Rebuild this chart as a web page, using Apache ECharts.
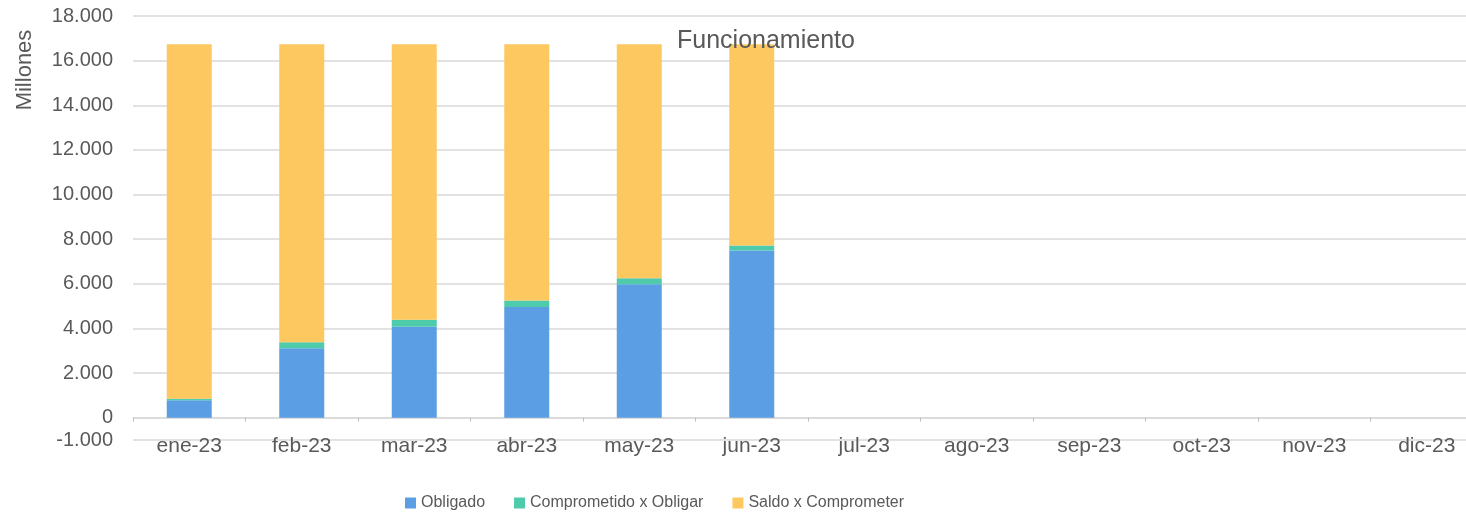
<!DOCTYPE html>
<html>
<head>
<meta charset="utf-8">
<script src="https://cdn.jsdelivr.net/npm/echarts@6/dist/echarts.min.js"></script>
<style>
  html, body { margin: 0; padding: 0; background: #fff; overflow: hidden; }
  /* the plot area runs slightly past the right edge of the picture */
  #chart { width: 1483px; height: 517px; }
</style>
</head>
<body>
<div id="chart"></div>
<script>
var months = ['ene-23','feb-23','mar-23','abr-23','may-23','jun-23','jul-23','ago-23','sep-23','oct-23','nov-23','dic-23'];
var obligado = [780, 3110, 4070, 4960, 5980, 7490, null, null, null, null, null, null];
var comprometido = [70, 270, 320, 290, 270, 230, null, null, null, null, null, null];
var saldo = [15880, 13350, 12340, 11480, 10480, 9010, null, null, null, null, null, null];

var yMin = -1000, yMax = 18000, yStep = 1000;
var txt = '#595959';
var font = 'Liberation Sans';

// gridlines only at -1000 and every 2000
var gridColors = [];
for (var v = yMin; v <= yMax; v += yStep) {
    gridColors.push((v === yMin || v % 2000 === 0) ? '#d9d9d9' : 'rgba(0,0,0,0)');
}

var myChart = echarts.init(document.getElementById('chart'));
var option = {
    animation: false,
    title: {
        text: 'Funcionamiento',
        left: 672,
        top: 24,
        textStyle: { color: txt, fontSize: 25, fontWeight: 'normal', fontFamily: font }
    },
    legend: {
        bottom: 1,
        left: 400,
        itemWidth: 11,
        itemHeight: 11,
        itemGap: 29,
        icon: 'rect',
        textStyle: { color: txt, fontSize: 16, fontFamily: font },
        data: ['Obligado', 'Comprometido x Obligar', 'Saldo x Comprometer']
    },
    graphic: [{
        type: 'text',
        x: 25,
        y: 70,
        rotation: Math.PI / 2,
        style: {
            text: 'Millones',
            fill: txt,
            fontSize: 22,
            fontFamily: font,
            align: 'center',
            verticalAlign: 'middle'
        }
    }],
    grid: { left: 133, right: 0, top: 16, bottom: 77, containLabel: false },
    xAxis: {
        type: 'category',
        data: months,
        axisLine: { onZero: true, lineStyle: { color: '#d9d9d9', width: 1.5 } },
        axisTick: { show: true, length: 4, lineStyle: { color: '#bfbfbf' } },
        axisLabel: { color: txt, fontSize: 21, fontFamily: font, margin: -4, interval: 0 }
    },
    yAxis: {
        type: 'value',
        min: yMin,
        max: yMax,
        interval: yStep,
        axisLine: { show: false },
        axisTick: { show: false },
        axisLabel: {
            color: txt,
            fontSize: 20,
            fontFamily: font,
            margin: 20,
            formatter: function (val) {
                if (val !== yMin && val % 2000 !== 0) return '';
                if (val === 0) return '0';
                var s = Math.abs(val).toString().replace(/\B(?=(\d{3})+(?!\d))/g, '.');
                return (val < 0 ? '-' : '') + s;
            }
        },
        splitLine: { show: true, lineStyle: { color: gridColors, width: 1.5 } }
    },
    series: [
        {
            name: 'Obligado', type: 'bar', stack: 'total', barWidth: '40%',
            itemStyle: { color: '#5b9ee3' }, data: obligado
        },
        {
            name: 'Comprometido x Obligar', type: 'bar', stack: 'total',
            itemStyle: { color: '#4ecbab' }, data: comprometido
        },
        {
            name: 'Saldo x Comprometer', type: 'bar', stack: 'total',
            itemStyle: { color: '#fdc860' }, data: saldo
        }
    ]
};
option && myChart.setOption(option);
</script>
</body>
</html>
